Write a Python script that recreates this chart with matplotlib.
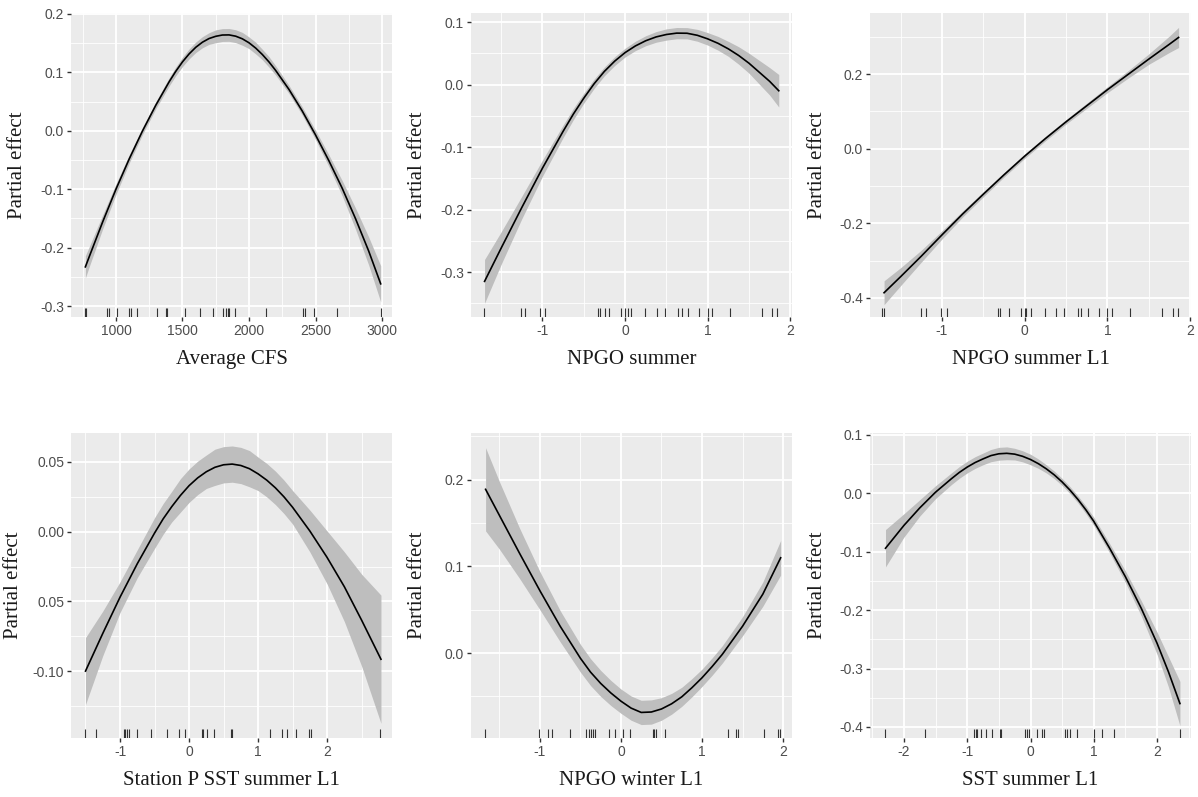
import numpy as np
import matplotlib
matplotlib.use('Agg')
import matplotlib.pyplot as plt

# Average CFS
cfs_x = [770, 800, 900, 1000, 1100, 1200, 1300, 1400, 1450, 1500, 1550, 1600, 1650,
         1700, 1750, 1800, 1850, 1900, 1950, 2000, 2050, 2100, 2150, 2200, 2300, 2400,
         2500, 2600, 2700, 2800, 2900, 2990]
cfs_fit = [-0.233, -0.215, -0.156, -0.100, -0.048, 0.000, 0.044, 0.084, 0.102, 0.118,
           0.1317, 0.143, 0.1517, 0.158, 0.1618, 0.1640, 0.1642, 0.1620, 0.1575, 0.1507,
           0.1417, 0.1307, 0.1180, 0.1035, 0.071, 0.034, -0.007, -0.051, -0.098, -0.150,
           -0.206, -0.262]
cfs_ci = [0.019, 0.017, 0.012, 0.009, 0.007, 0.006, 0.006, 0.007, 0.0075, 0.008,
          0.0085, 0.009, 0.0095, 0.010, 0.011, 0.011, 0.011, 0.011, 0.011, 0.010, 0.010,
          0.009, 0.009, 0.008, 0.007, 0.007, 0.008, 0.010, 0.013, 0.018, 0.024, 0.031]
cfs_rug = [765, 775, 935, 947, 1005, 1100, 1113, 1156, 1311, 1374, 1386, 1522, 1632,
           1733, 1803, 1828, 1841, 1853, 1896, 2127, 2405, 2418, 2485, 2661, 2990]

# NPGO summer
npgo_x = [-1.70, -1.5, -1.25, -1.0, -0.75, -0.625, -0.5, -0.375, -0.25, -0.125, 0.0,
          0.125, 0.25, 0.375, 0.5, 0.625, 0.75, 0.875, 1.0, 1.125, 1.25, 1.375, 1.5,
          1.75, 1.86]
npgo_fit = [-0.315, -0.262, -0.197, -0.134, -0.075, -0.0472, -0.022, 0.0011, 0.021,
            0.0374, 0.051, 0.0617, 0.070, 0.0761, 0.080, 0.0822, 0.082, 0.0787, 0.073,
            0.0659, 0.057, 0.0464, 0.034, 0.005, -0.010]
npgo_ci = [0.035, 0.026, 0.018, 0.013, 0.010, 0.009, 0.008, 0.0075, 0.007, 0.007,
           0.007, 0.0075, 0.008, 0.0085, 0.009, 0.009, 0.009, 0.0095, 0.010, 0.011,
           0.012, 0.014, 0.016, 0.022, 0.026]
npgo_rug = [-1.707, -1.265, -1.205, -1.032, -0.964, -0.329, -0.301, -0.241, -0.193,
            -0.048, 0.0, 0.032, 0.072, 0.241, 0.382, 0.482, 0.643, 0.683, 0.763,
            0.896, 1.004, 1.052, 1.265, 1.659, 1.779, 1.839]

# NPGO summer L1
npgo1_x = [-1.70, -1.5, -1.25, -1.0, -0.75, -0.5, -0.25, 0.0, 0.25, 0.5, 0.75, 1.0,
           1.25, 1.5, 1.75, 1.86]
npgo1_fit = [-0.386, -0.343, -0.288, -0.231, -0.175, -0.122, -0.070, -0.020, 0.027,
             0.072, 0.115, 0.158, 0.199, 0.240, 0.280, 0.298]
npgo1_ci = [0.032, 0.024, 0.016, 0.011, 0.008, 0.007, 0.006, 0.006, 0.006, 0.006,
            0.007, 0.008, 0.010, 0.014, 0.022, 0.027]
npgo1_rug = [-1.72, -1.70, -1.25, -1.19, -1.01, -0.94, -0.32, -0.30, -0.19, -0.05,
             0.0, 0.02, 0.07, 0.24, 0.38, 0.48, 0.64, 0.68, 0.76, 0.90, 1.00, 1.05,
             1.27, 1.66, 1.79, 1.85]

# Station P SST summer L1
stp_x = [-1.50, -1.25, -1.0, -0.75, -0.5, -0.375, -0.25, -0.125, 0.0, 0.125, 0.25,
         0.375, 0.5, 0.625, 0.75, 0.875, 1.0, 1.125, 1.25, 1.375, 1.5, 1.75, 2.0, 2.25,
         2.5, 2.78]
stp_fit = [-0.100, -0.073, -0.047, -0.023, -0.001, 0.0092, 0.018, 0.0260, 0.033,
           0.0386, 0.043, 0.0462, 0.048, 0.0485, 0.0475, 0.0452, 0.0415, 0.0370, 0.0315,
           0.0250, 0.0175, 0.0005, -0.0185, -0.0395, -0.0635, -0.0915]
stp_ci = [0.024, 0.016, 0.011, 0.010, 0.011, 0.011, 0.011, 0.012, 0.012, 0.012, 0.012,
          0.013, 0.013, 0.013, 0.013, 0.013, 0.012, 0.012, 0.012, 0.012, 0.012, 0.015,
          0.019, 0.025, 0.033, 0.046]
stp_rug = [-1.502, -1.348, -0.948, -0.924, -0.900, -0.876, -0.756, -0.549, -0.323,
           -0.140, -0.058, 0.183, 0.207, 0.255, 0.366, 0.602, 0.616, 1.170, 1.353,
           1.425, 1.545, 1.733, 1.762, 2.773]

# NPGO winter L1
npgow_x = [-1.67, -1.5, -1.25, -1.0, -0.75, -0.5, -0.375, -0.25, -0.125, 0.0, 0.125,
           0.25, 0.375, 0.5, 0.625, 0.75, 0.875, 1.0, 1.125, 1.25, 1.5, 1.75, 1.97]
npgow_fit = [0.189, 0.159, 0.115, 0.072, 0.031, -0.006, -0.022, -0.035, -0.046,
             -0.0555, -0.0635, -0.0685, -0.0680, -0.0645, -0.0585, -0.0505, -0.0400,
             -0.0285, -0.0155, -0.0015, 0.031, 0.068, 0.110]
npgow_ci = [0.048, 0.039, 0.029, 0.022, 0.018, 0.016, 0.0155, 0.015, 0.0145, 0.014,
            0.014, 0.014, 0.014, 0.013, 0.012, 0.011, 0.0105, 0.010, 0.010, 0.010,
            0.011, 0.014, 0.020]
npgow_rug = [-1.677, -1.005, -0.894, -0.845, -0.626, -0.429, -0.400, -0.371, -0.346,
             -0.326, -0.152, -0.070, 0.025, 0.115, 0.391, 0.412, 0.437, 0.540, 1.318,
             1.413, 1.446, 1.764, 1.941, 1.961]

# SST summer L1
sst_x = [-2.29, -2.0, -1.75, -1.5, -1.25, -1.125, -1.0, -0.875, -0.75, -0.625, -0.5,
         -0.375, -0.25, -0.125, 0.0, 0.125, 0.25, 0.375, 0.5, 0.625, 0.75, 0.875, 1.0,
         1.25, 1.5, 1.75, 2.0, 2.18, 2.36]
sst_fit = [-0.094, -0.055, -0.025, 0.002, 0.025, 0.0358, 0.045, 0.0528, 0.059, 0.0647,
           0.0678, 0.0686, 0.0672, 0.0635, 0.058, 0.0508, 0.042, 0.0317, 0.0195, 0.0054,
           -0.0105, -0.0283, -0.048, -0.094, -0.143, -0.197, -0.257, -0.306, -0.360]
sst_ci = [0.032, 0.020, 0.014, 0.011, 0.010, 0.010, 0.010, 0.010, 0.010, 0.0105,
          0.011, 0.011, 0.010, 0.0095, 0.009, 0.008, 0.007, 0.0065, 0.006, 0.006, 0.006,
          0.0065, 0.007, 0.008, 0.010, 0.013, 0.019, 0.026, 0.038]
sst_rug = [-2.294, -1.664, -0.892, -0.866, -0.840, -0.787, -0.709, -0.604, -0.483,
           -0.462, -0.079, -0.052, -0.026, 0.105, 0.184, 0.210, 0.551, 0.577, 0.630,
           0.735, 0.997, 1.129, 1.312, 2.362]

SERIF = ['Liberation Serif', 'DejaVu Serif']
SANS = ['Liberation Sans', 'DejaVu Sans']


def minor_breaks(major, lo, hi):
    step = major[1] - major[0]
    cand = np.arange(major[0] - step / 2, major[-1] + step, step)
    return [c for c in cand if lo <= c <= hi]


def plot_panel(ax, x, fit, ci, rug, xlabel, xlim, ylim, xticks, xlabels, yticks, ylabels,
               ylab_x=-0.168):
    x = np.asarray(x)
    fit = np.asarray(fit)
    ci = np.asarray(ci)
    ax.set_facecolor('#ebebeb')
    for s in ax.spines.values():
        s.set_visible(False)

    ax.set_xlim(*xlim)
    ax.set_ylim(*ylim)
    ax.set_xticks(xticks)
    ax.set_xticklabels(xlabels)
    ax.set_yticks(yticks)
    ax.set_yticklabels(ylabels)
    ax.set_xticks(minor_breaks(xticks, *xlim), minor=True)
    ax.set_yticks(minor_breaks(yticks, *ylim), minor=True)
    ax.grid(which='major', color='white', lw=1.3)
    ax.grid(which='minor', color='white', lw=0.6)
    ax.set_axisbelow(True)
    ax.tick_params(which='major', length=3, width=1, color='#333333',
                   labelsize=10, labelcolor='#4d4d4d', pad=2)
    ax.tick_params(which='minor', length=0)
    for lab in ax.get_xticklabels() + ax.get_yticklabels():
        lab.set_family(SANS)

    ax.fill_between(x, fit - ci, fit + ci, color='#bebebe', lw=0)
    ax.plot(x, fit, color='black', lw=1.2, solid_joinstyle='round')
    ax.vlines(rug, 0, 0.028, transform=ax.get_xaxis_transform(),
              colors='#333333', lw=0.8)

    ax.set_xlabel(xlabel, family=SERIF, fontsize=15, color='#1a1a1a')
    ax.set_ylabel('Partial effect', family=SERIF, fontsize=15, color='#1a1a1a')
    ax.xaxis.set_label_coords(0.5, -0.14)
    ax.xaxis.label.set_va('center')
    ax.yaxis.set_label_coords(ylab_x, 0.5)
    ax.yaxis.label.set_va('center')


W, H = 1198, 797
fig = plt.figure(figsize=(W / 100, H / 100), dpi=100)


def box(x0, x1, y0, y1):
    return [x0 / W, 1 - y1 / H, (x1 - x0) / W, (y1 - y0) / H]


ax1 = fig.add_axes(box(71, 392, 13, 317))
ax2 = fig.add_axes(box(471, 792, 13, 317))
ax3 = fig.add_axes(box(870, 1191, 13, 317))
ax4 = fig.add_axes(box(71, 392, 433, 738))
ax5 = fig.add_axes(box(471, 792, 433, 738))
ax6 = fig.add_axes(box(870, 1191, 433, 738))

plot_panel(ax1, cfs_x, cfs_fit, cfs_ci, cfs_rug, 'Average CFS',
           (662, 3075), (-0.3188, 0.2017),
           [1000, 1500, 2000, 2500, 3000], ['1000', '1500', '2000', '2500', '3000'],
           [-0.3, -0.2, -0.1, 0.0, 0.1, 0.2], ['-0.3', '-0.2', '-0.1', '0.0', '0.1', '0.2'])
plot_panel(ax2, npgo_x, npgo_fit, npgo_ci, npgo_rug, 'NPGO summer',
           (-1.864, 2.02), (-0.372, 0.1144),
           [-1, 0, 1, 2], ['-1', '0', '1', '2'],
           [-0.3, -0.2, -0.1, 0.0, 0.1], ['-0.3', '-0.2', '-0.1', '0.0', '0.1'])
plot_panel(ax3, npgo1_x, npgo1_fit, npgo1_ci, npgo1_rug, 'NPGO summer L1',
           (-1.87, 2.01), (-0.451, 0.3635),
           [-1, 0, 1, 2], ['-1', '0', '1', '2'],
           [-0.4, -0.2, 0.0, 0.2], ['-0.4', '-0.2', '0.0', '0.2'], ylab_x=-0.165)
plot_panel(ax4, stp_x, stp_fit, stp_ci, stp_rug, 'Station P SST summer L1',
           (-1.71, 2.94), (-0.148, 0.0708),
           [-1, 0, 1, 2], ['-1', '0', '1', '2'],
           [-0.10, -0.05, 0.0, 0.05], ['-0.10', '0.05', '0.00', '0.05'], ylab_x=-0.18)
plot_panel(ax5, npgow_x, npgow_fit, npgow_ci, npgow_rug, 'NPGO winter L1',
           (-1.85, 2.11), (-0.098, 0.254),
           [-1, 0, 1, 2], ['-1', '0', '1', '2'],
           [0.0, 0.1, 0.2], ['0.0', '0.1', '0.2'])
plot_panel(ax6, sst_x, sst_fit, sst_ci, sst_rug, 'SST summer L1',
           (-2.535, 2.535), (-0.419, 0.1034),
           [-2, -1, 0, 1, 2], ['-2', '-1', '0', '1', '2'],
           [-0.4, -0.3, -0.2, -0.1, 0.0, 0.1], ['-0.4', '-0.3', '-0.2', '-0.1', '0.0', '0.1'],
           ylab_x=-0.162)

fig.savefig('out.png', dpi=100)
